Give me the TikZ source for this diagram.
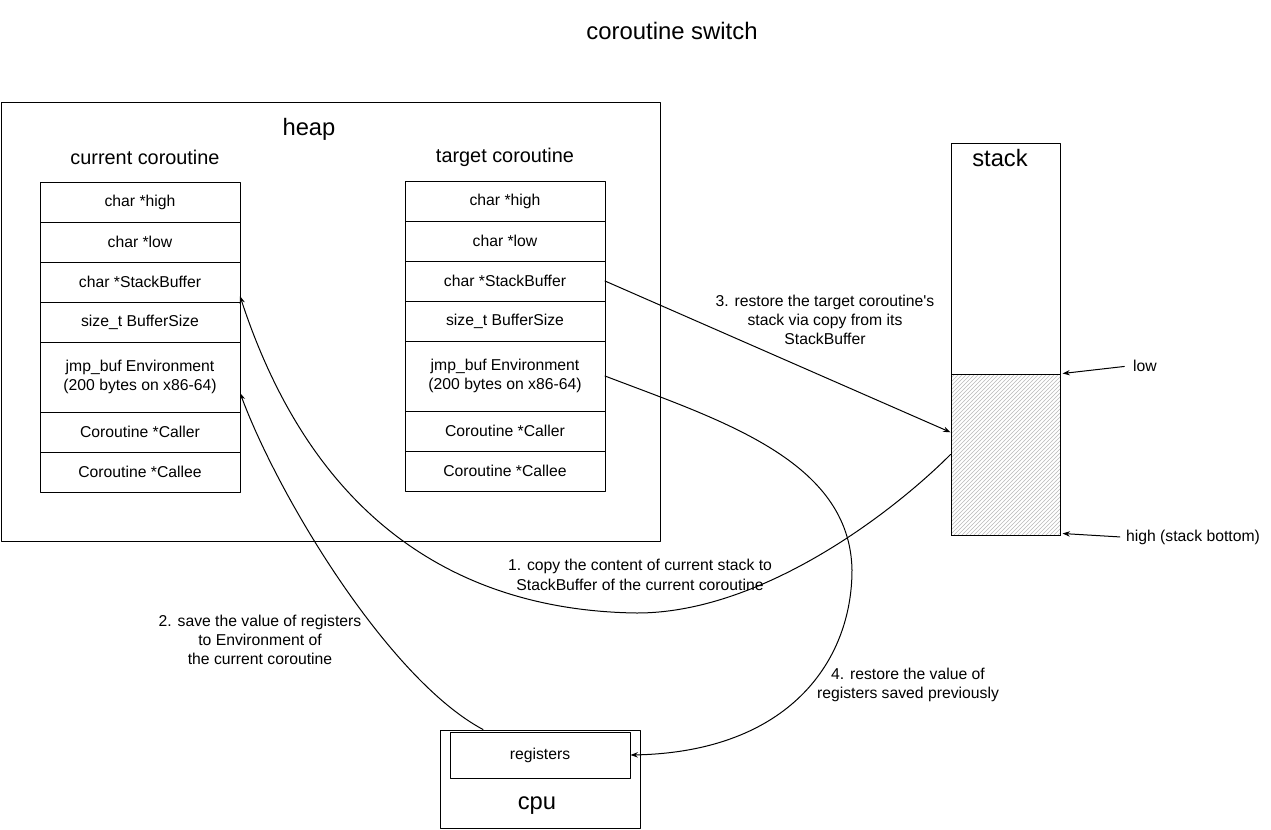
\documentclass[tikz,border=0pt]{standalone}
\usepackage{fontspec}
\setmainfont{Liberation Sans}
\usetikzlibrary{positioning,patterns,arrows.meta}
\begin{document}
\begin{tikzpicture}[x=0.75pt, y=-0.75pt, line width=0.75pt, line join=round, line cap=round,
	font=\fontsize{11.8}{14.5}\selectfont, >={Stealth[length=5.5pt,width=4pt]}]
	\tikzset{
		field/.style={draw, minimum width=150pt, minimum height=30pt, inner sep=0pt, outer sep=0pt, align=center},
		bigtxt/.style={font=\fontsize{17.8}{21}\selectfont},
		midtxt/.style={font=\fontsize{14.9}{18}\selectfont},
		note/.style={align=center},
		link/.style={->, black}
	}
	\useasboundingbox (0,0) rectangle (1271,829);
	\node at (672,31) [midtxt, font=\fontsize{17.9}{21}\selectfont] {coroutine switch};
	% heap with both coroutines
	\node[draw, minimum width=494.25pt, minimum height=329.25pt] (heap) at (330.5,321.5) {};
	\node[bigtxt] (heaplbl) at (309,129) {heap};
	\node[midtxt] (curlbl) at (145,157) {current coroutine};
	\node[midtxt] (tgtlbl) at (505,157) {target coroutine};
	\foreach \s/\x/\y in {c/140/202, t/505/201}{
		\node[field] (\s1) at (\x,\y) {char *high};
		\node[field, below=0pt of \s1] (\s2) {char *low};
		\node[field, below=0pt of \s2] (\s3) {char *StackBuffer};
		\node[field, below=0pt of \s3] (\s4) {size\_t BufferSize};
		\node[field, below=0pt of \s4, minimum height=52.5pt] (\s5) {jmp\_buf Environment\\(200 bytes on x86-64)};
		\node[field, below=0pt of \s5] (\s6) {Coroutine *Caller};
		\node[field, below=0pt of \s6] (\s7) {Coroutine *Callee};
	}
	% stack
	\node[draw, minimum width=81.75pt, minimum height=294pt, inner sep=0pt] (stack) at (1005.5,339) {};
	\node[bigtxt] (stacklbl) at (1000,158) {stack};
	\node[draw, pattern=north east lines, pattern color=gray!55, minimum width=81.75pt, minimum height=120.75pt, inner sep=0pt] (used) at (1005.5,454.5) {};
	\node (lowlbl) at (1145,366) {low};
	\node (highlbl) at (1193,537) {high (stack bottom)};
	\draw[link, shorten <=3pt] (lowlbl.west) -- ([xshift=1.5pt]used.north east);
	\draw[link, shorten <=1pt] (highlbl.west) -- ([xshift=1.5pt,yshift=1.5pt]used.south east);
	% cpu
	\node[draw, minimum width=150pt, minimum height=73.5pt, inner sep=0pt] (cpu) at (540,779) {};
	\node[draw, minimum width=135pt, minimum height=34.5pt] (regs) at (540,755) {registers};
	\node[bigtxt] (cpulbl) at (537,806) {cpu};
	% the four steps
	\draw[link] (used.west) .. controls (890,515) and (760,613) .. (637,613)
		.. controls (480,611) and (320,540) .. (c3.-8);
	\draw[link] (cpu.139) .. controls (390,680) and (280,500) .. (c5.-9);
	\draw[link] (t3.east) -- (used.158);
	\draw[link] (t5.east) .. controls (720,420) and (850,460) .. (852,570)
		.. controls (852,660) and (790,752) .. (regs.east);
	\path
	(640,575) node[note] (step1) {1. copy the content of current stack to\\StackBuffer of the current coroutine}
	(260,640) node[note] (step2) {2. save the value of registers\\to Environment of\\the current coroutine}
	(825,320) node[note] (step3) {3. restore the target coroutine\textquotesingle s\\stack via copy from its\\StackBuffer}
	(908,685) node[note] (step4) {4. restore the value of\\registers saved previously}
	;
\end{tikzpicture}
\end{document}
